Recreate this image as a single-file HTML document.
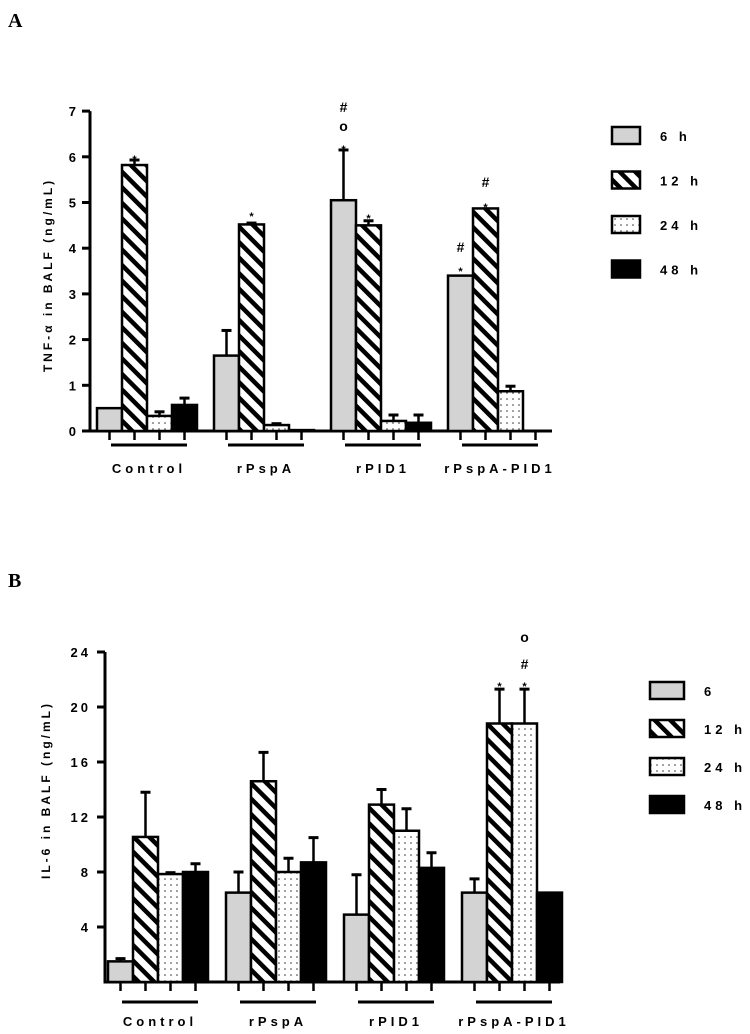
<!DOCTYPE html>
<html><head><meta charset="utf-8"><style>
body{margin:0;background:#fff;width:750px;height:1034px;overflow:hidden}
svg{position:absolute;left:0;top:0}
text{font-family:"Liberation Sans",Arial,sans-serif;font-weight:bold;fill:#000}
</style></head><body>
<svg id="s" width="750" height="1034" xmlns="http://www.w3.org/2000/svg">
<defs>
<pattern id="stripe" patternUnits="userSpaceOnUse" width="11" height="11" patternTransform="rotate(45)">
<rect width="11" height="11" fill="#fff"/><rect x="0" y="0" width="11" height="4.5" fill="#000"/></pattern>
<pattern id="dots" patternUnits="userSpaceOnUse" width="6" height="6">
<rect width="6" height="6" fill="#fff"/><circle cx="3" cy="3" r="0.8" fill="#333"/></pattern>
</defs>
<text x="8" y="27" style="font-family:'Liberation Serif',serif;font-size:20px">A</text>
<text x="8" y="587" style="font-family:'Liberation Serif',serif;font-size:20px">B</text>
</svg>
<script>
const groups=["Control","rPspA","rPID1","rPspA-PID1"];
const seriesNames=["6 h","12 h","24 h","48 h"];
const seriesNamesB=["6","12 h","24 h","48 h"];
const tnfMean=[[0.5,5.82,0.33,0.57],[1.65,4.52,0.13,0.02],[5.05,4.5,0.22,0.18],[3.4,4.87,0.87,0]];
const tnfErr=[[0,0.11,0.09,0.15],[0.55,0.03,0.03,0],[1.1,0.1,0.13,0.17],[0,0,0.11,0]];
const tnfTicks=[0,1,2,3,4,5,6,7];
const il6Mean=[[1.5,10.55,7.85,8.0],[6.5,14.6,8.0,8.7],[4.9,12.9,11.0,8.3],[6.5,18.8,18.8,6.5]];
const il6Err=[[0.2,3.25,0.1,0.6],[1.5,2.1,1.0,1.8],[2.9,1.1,1.6,1.1],[1.0,2.5,2.5,0]];
const il6Ticks=[4,8,12,16,20,24];
const fills=["#d3d3d3","url(#stripe)","url(#dots)","#000"];
const NS="http://www.w3.org/2000/svg";
const svg=document.getElementById('s');
function mk(t,a,p){const e=document.createElementNS(NS,t);for(const k in a)e.setAttribute(k,a[k]);(p||svg).appendChild(e);return e;}
function chart(o){
  const g=mk('g',{});
  
  
  const y=v=>o.y0-(v-o.vmin)*o.ppu;
  const ax=mk('path',{d:`M${o.ax} ${y(o.vmax)} V${o.y0} H${o.xend}`,stroke:'#000','stroke-width':3,fill:'none'},g);
  
  
  o.ticks.forEach(t=>{
    mk('line',{x1:o.ax-8,x2:o.ax,y1:y(t),y2:y(t),stroke:'#000','stroke-width':3},g);
    const tx=mk('text',{x:o.ax-14,y:y(t)+5,'text-anchor':'end','font-size':13,'letter-spacing':o.ls},g);
    tx.textContent=String(t);
    
    
  });
  const bw=o.bw;
  o.mean.forEach((row,gi)=>{
    const gx=o.gx0+gi*o.gstep;
    row.forEach((v,si)=>{
      const x=gx+si*bw;
      const err=o.err[gi][si];
      if(err>0){mk('line',{x1:x+bw/2,x2:x+bw/2,y1:y(v),y2:y(v+err),stroke:'#000','stroke-width':2.5},g);
        mk('line',{x1:x+bw/2-5,x2:x+bw/2+5,y1:y(v+err),y2:y(v+err),stroke:'#000','stroke-width':3},g);}
      const h=Math.max(o.y0-y(v),0);
      const r=mk('rect',{x:x,y:y(v),width:bw,height:h,fill:fills[si],stroke:'#000','stroke-width':2.5},g);
      
      
      mk('line',{x1:x+bw/2,x2:x+bw/2,y1:o.y0,y2:o.y0+9,stroke:'#000','stroke-width':2.5},g);
    });
    mk('line',{x1:gx+14,x2:gx+4*bw-10,y1:o.y0+o.ulOff,y2:o.y0+o.ulOff,stroke:'#000','stroke-width':3},g);
    const gl=mk('text',{x:gx+2*bw+2,y:o.y0+o.lblOff,'text-anchor':'middle','font-size':13,'letter-spacing':'4px'},g);
    gl.textContent=groups[gi];
    
    
  });
  const yt=mk('text',{x:o.tx,y:o.ty,'text-anchor':'middle','font-size':12,'letter-spacing':'3px',transform:`rotate(-90 ${o.tx} ${o.ty})`},g);
  yt.textContent=o.title;
  
  
  o.legend.forEach((n,i)=>{
    const ly=o.ly0+i*o.lstep;
    const lr=mk('rect',{x:o.lx,y:ly,width:o.lw,height:17,fill:fills[i],stroke:'#000','stroke-width':2.5},g);
    
    
    const lt=mk('text',{x:o.lx+o.lw+20,y:ly+14,'font-size':13,'font-weight':'normal','letter-spacing':'4px'},g);
    lt.textContent=n;
    
    
  });
  o.ann.forEach(a=>{
    const x=o.gx0+a[0]*o.gstep+a[1]*bw+bw/2;
    const t=mk('text',{x:x,y:a[2],'text-anchor':'middle','font-size':a[3]=='*'?11:14,'font-weight':'normal'},g);
    t.textContent=a[3];
    
    
  });
}
chart({name:'tnf-chart',ax:90,y0:431,vmin:0,vmax:7,ppu:45.7,xend:552,ticks:tnfTicks,ls:'0px',
  mean:tnfMean,err:tnfErr,gx0:97,gstep:117,bw:25,ulOff:14,lblOff:42,
  title:'TNF-α in BALF (ng/mL)',tx:52,ty:275,legend:seriesNames,lx:612,ly0:127,lstep:44.5,lw:28,
  ann:[[0,1,163,'*'],[1,1,220,'*'],[2,1,222,'*'],[2,0,153,'*'],[2,0,131,'o'],[2,0,112,'#'],
       [3,1,211,'*'],[3,1,187,'#'],[3,0,275,'*'],[3,0,252,'#']]});
chart({name:'il6-chart',ax:105,y0:982,vmin:0,vmax:24,ppu:13.75,xend:560,ticks:il6Ticks,ls:'3px',
  mean:il6Mean,err:il6Err,gx0:108,gstep:118,bw:25,ulOff:20,lblOff:44,
  title:'IL-6 in BALF (ng/mL)',tx:50,ty:790,legend:seriesNamesB,lx:650,ly0:682,lstep:38,lw:34,
  ann:[[3,1,690,'*'],[3,2,690,'*'],[3,2,669,'#'],[3,2,642,'o']]});
</script>
</body></html>
